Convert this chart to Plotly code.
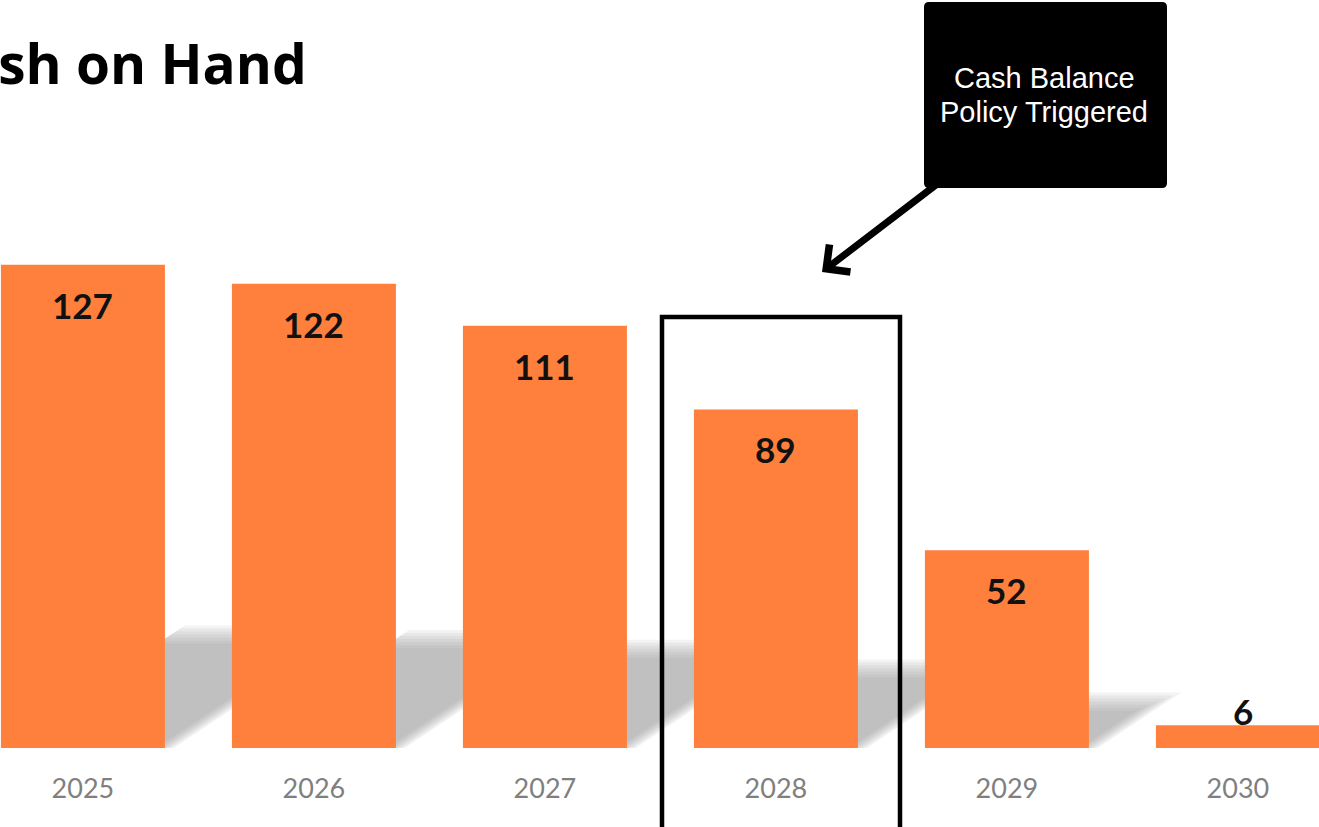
import plotly.graph_objects as go

# Year-end cash balance ($M)
years = ["2025", "2026", "2027", "2028", "2029", "2030"]
cash = [127, 122, 111, 89, 52, 6]
highlight_year = "2028"

W, H = 1319, 827
MARGIN_B = 79
PLOT_H = H - MARGIN_B

BAR_W = 0.71
X_RANGE = [-0.359, 5.351]
Y_MAX = 196.6

idx = list(range(len(years)))
px_per_unit_x = W / (X_RANGE[1] - X_RANGE[0])
px_per_unit_y = PLOT_H / Y_MAX


def px(xp):
    return xp / W


def py(yp):
    return (PLOT_H - yp) / PLOT_H


fig = go.Figure()

fig.add_trace(go.Bar(
    x=idx, y=cash, width=BAR_W,
    marker=dict(color="#FE803C", line=dict(width=0)),
    hoverinfo="skip",
))

# soft cast shadow behind each bar, built from stacked translucent layers
SHADOW_K = 0.235
SHADOW_SLOPE = 1.5  # horizontal px per vertical px of shadow
shapes = []
for i, v in zip(idx, cash):
    s = SHADOW_K * v
    for g in range(-9, 10, 3):
        top = s + g / px_per_unit_y
        if top <= 0:
            continue
        dx = top * px_per_unit_y * SHADOW_SLOPE / px_per_unit_x
        shift = g / px_per_unit_x
        x0 = i - BAR_W / 2
        x1 = i + BAR_W / 2 + shift
        path = (f"M {x0},0 L {x1},0 L {x1 + dx},{top} "
                f"L {x0 + dx},{top} Z")
        shapes.append(dict(type="path", path=path, xref="x", yref="y",
                           fillcolor="rgba(150,150,150,0.11)",
                           line=dict(width=0), layer="below"))

# highlight frame around the trigger year
shapes.append(dict(type="rect", xref="paper", yref="paper",
                   x0=px(662), x1=px(900), y0=py(835), y1=py(317),
                   line=dict(color="black", width=4.5),
                   fillcolor="rgba(0,0,0,0)", layer="above"))

# callout box with rounded corners
bx0, bx1, by0, by1, r = 924, 1167, 2, 188, 5
box_path = (
    f"M {px(bx0 + r)},{py(by0)} L {px(bx1 - r)},{py(by0)} "
    f"Q {px(bx1)},{py(by0)} {px(bx1)},{py(by0 + r)} "
    f"L {px(bx1)},{py(by1 - r)} Q {px(bx1)},{py(by1)} {px(bx1 - r)},{py(by1)} "
    f"L {px(bx0 + r)},{py(by1)} Q {px(bx0)},{py(by1)} {px(bx0)},{py(by1 - r)} "
    f"L {px(bx0)},{py(by0 + r)} Q {px(bx0)},{py(by0)} {px(bx0 + r)},{py(by0)} Z"
)
shapes.append(dict(type="path", path=box_path, xref="paper", yref="paper",
                   fillcolor="black", line=dict(width=0), layer="above"))

annotations = []

# value labels
for i, v in zip(idx, cash):
    inside = v >= 20
    annotations.append(dict(
        x=i + (0 if inside else 0.02), y=v, xref="x", yref="y",
        text=f"<b>{v}</b>", showarrow=False,
        yshift=-40 if inside else 14,
        font=dict(family="Lato", size=35, color="#111111"),
    ))

# title
annotations.append(dict(
    x=px(309), y=py(62), xref="paper", yref="paper",
    xanchor="right", yanchor="middle",
    text="<b>Cash on Hand</b>", showarrow=False,
    font=dict(family="Open Sans", size=55, color="#000000"),
))

# callout text
for line, yc in (("Cash Balance", 78), ("Policy Triggered", 112)):
    annotations.append(dict(
        x=px(1044), y=py(yc), xref="paper", yref="paper",
        xanchor="center", yanchor="middle",
        text=line, showarrow=False,
        font=dict(family="Liberation Sans", size=29, color="white"),
    ))

# pointer arrow
annotations.append(dict(
    x=px(822), y=py(272), xref="paper", yref="paper",
    ax=123, ay=-94, text="", showarrow=True,
    arrowhead=4, arrowsize=0.95, arrowwidth=7, arrowcolor="black",
    standoff=0,
))

fig.update_layout(
    width=W, height=H,
    margin=dict(l=0, r=0, t=0, b=MARGIN_B),
    paper_bgcolor="white", plot_bgcolor="white",
    showlegend=False,
    xaxis=dict(range=X_RANGE, tickvals=idx, ticktext=years,
               showgrid=False, zeroline=False, showline=False, ticks="",
               tickfont=dict(family="Lato", size=27, color="#7f7f7f"),
               ticklabelstandoff=22, fixedrange=True),
    yaxis=dict(range=[0, Y_MAX], visible=False, fixedrange=True),
    shapes=shapes,
    annotations=annotations,
)

fig.write_html("out.html", config={"displayModeBar": False})
